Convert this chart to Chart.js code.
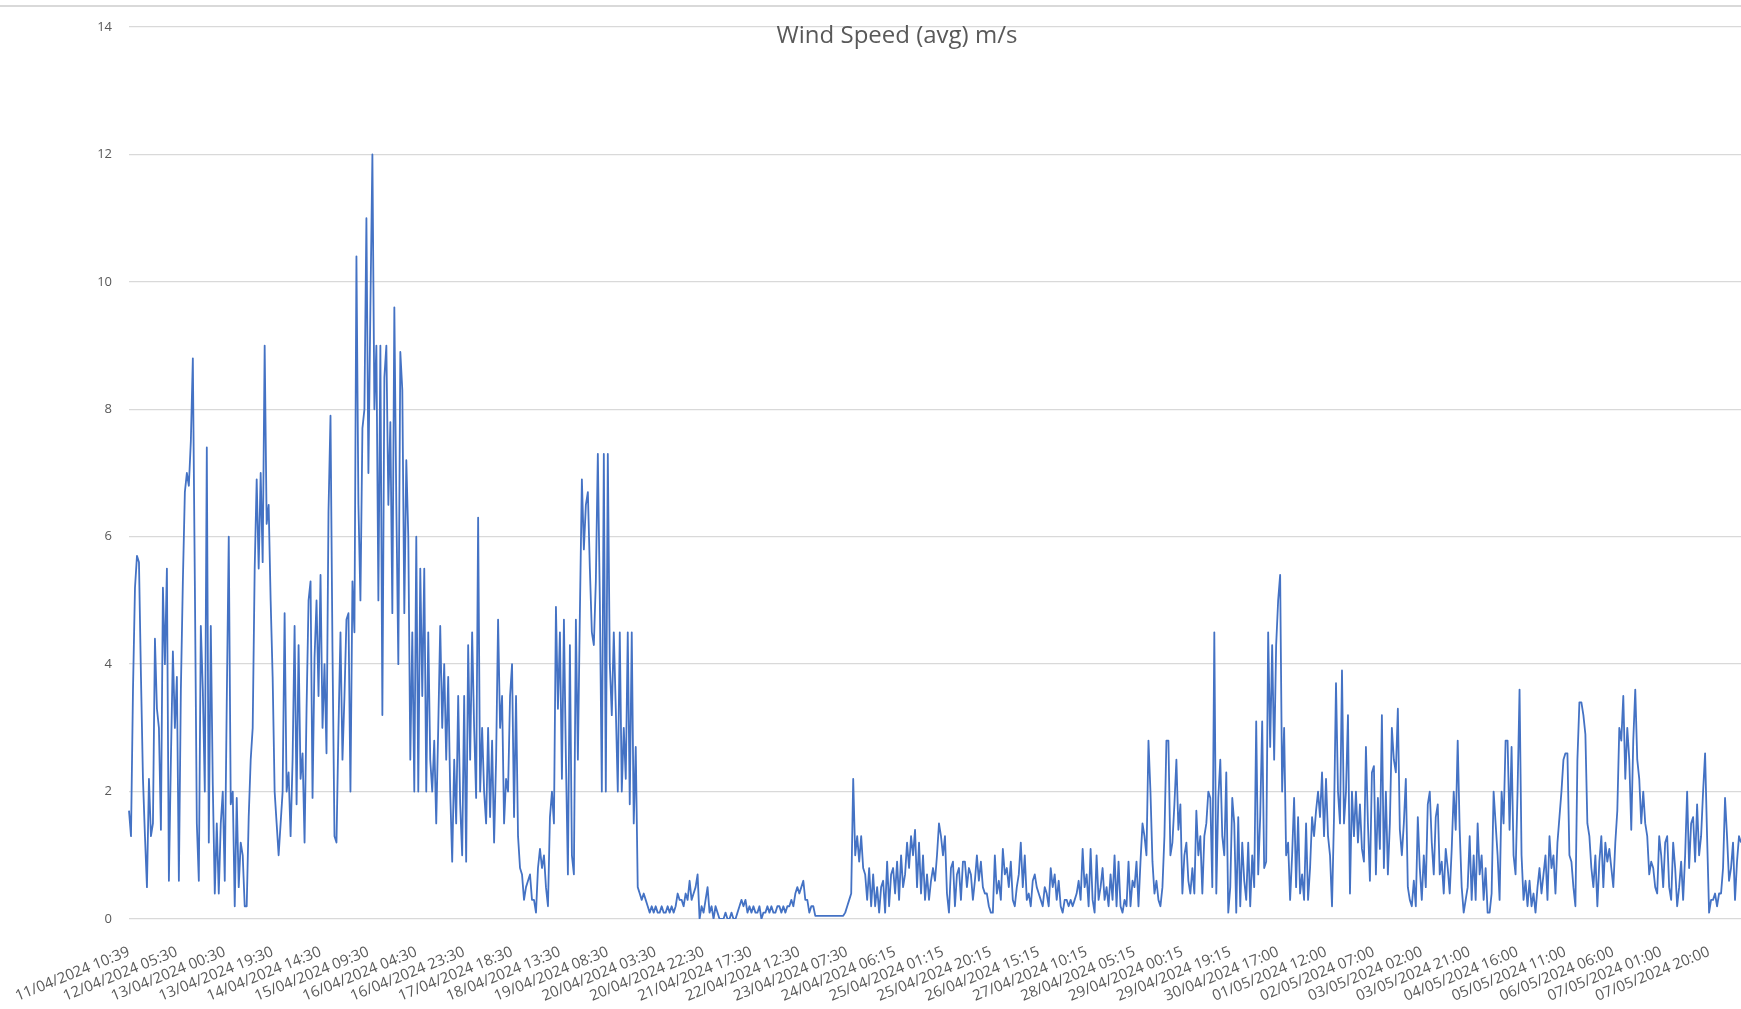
<!DOCTYPE html>
<html>
<head>
<meta charset="utf-8">
<script src="https://cdn.jsdelivr.net/npm/chart.js@4.4.1/dist/chart.umd.min.js"></script>
<style>
  html, body { margin: 0; padding: 0; background: #fff; overflow: hidden; }
  #wrap { width: 1741px; height: 1009px; }
</style>
</head>
<body>
<div id="wrap"><canvas id="windChart" width="1741" height="1009"></canvas></div>
<script>
const chartTitle = 'Wind Speed (avg) m/s';

// x axis labels, one every 24 readings
const labelEvery = 24;
const tickLabels = [
  '11/04/2024 10:39', '12/04/2024 05:30', '13/04/2024 00:30', '13/04/2024 19:30',
  '14/04/2024 14:30', '15/04/2024 09:30', '16/04/2024 04:30', '16/04/2024 23:30',
  '17/04/2024 18:30', '18/04/2024 13:30', '19/04/2024 08:30', '20/04/2024 03:30',
  '20/04/2024 22:30', '21/04/2024 17:30', '22/04/2024 12:30', '23/04/2024 07:30',
  '24/04/2024 06:15', '25/04/2024 01:15', '25/04/2024 20:15', '26/04/2024 15:15',
  '27/04/2024 10:15', '28/04/2024 05:15', '29/04/2024 00:15', '29/04/2024 19:15',
  '30/04/2024 17:00', '01/05/2024 12:00', '02/05/2024 07:00', '03/05/2024 02:00',
  '03/05/2024 21:00', '04/05/2024 16:00', '05/05/2024 11:00', '06/05/2024 06:00',
  '07/05/2024 01:00', '07/05/2024 20:00'
];

const yTicks = [0, 2, 4, 6, 8, 10, 12, 14];

// wind speed readings (m/s)
const windApr11to15 = [
  1.7, 1.3, 3.6, 5.2, 5.7, 5.6, 3.8, 2.2, 1.3, 0.5, 2.2, 1.3,
  1.5, 4.4, 3.3, 3.0, 1.4, 5.2, 4.0, 5.5, 0.6, 2.5, 4.2, 3.0,
  3.8, 0.6, 3.6, 5.3, 6.7, 7.0, 6.8, 7.5, 8.8, 5.3, 1.5, 0.6,
  4.6, 3.6, 2.0, 7.4, 1.2, 4.6, 2.1, 0.4, 1.5, 0.4, 1.5, 2.0,
  0.6, 3.4, 6.0, 1.8, 2.0, 0.2, 1.9, 0.5, 1.2, 1.0, 0.2, 0.2,
  1.6, 2.5, 3.0, 5.5, 6.9, 5.5, 7.0, 5.6, 9.0, 6.2, 6.5, 5.0,
  3.8, 2.0, 1.5, 1.0, 1.5, 2.0, 4.8, 2.0, 2.3, 1.3, 2.5, 4.6,
  1.8, 4.3, 2.2, 2.6, 1.2, 3.3, 5.0, 5.3, 1.9, 4.1, 5.0, 3.5,
  5.4, 3.0, 4.0, 2.6, 6.4, 7.9, 4.2, 1.3, 1.2, 3.0, 4.5, 2.5,
  3.5, 4.7, 4.8, 2.0, 5.3, 4.5, 10.4, 6.5, 5.0, 7.7, 8.0, 11.0
];
const windApr15to20 = [
  7.0, 9.6, 12.0, 8.0, 9.0, 5.0, 9.0, 3.2, 8.5, 9.0, 6.5, 7.8,
  4.8, 9.6, 6.5, 4.0, 8.9, 8.3, 4.8, 7.2, 6.0, 2.5, 4.5, 2.0,
  6.0, 2.0, 5.5, 3.5, 5.5, 2.0, 4.5, 2.5, 2.0, 2.8, 1.5, 3.0,
  4.6, 3.0, 4.0, 2.5, 3.8, 2.0, 0.9, 2.5, 1.5, 3.5, 1.8, 1.0,
  3.5, 0.9, 4.3, 2.5, 4.5, 3.0, 1.9, 6.3, 2.0, 3.0, 2.0, 1.5,
  3.0, 1.6, 2.8, 1.2, 2.5, 4.7, 3.0, 3.5, 1.5, 2.2, 2.0, 3.5,
  4.0, 1.6, 3.5, 1.3, 0.8, 0.7, 0.3, 0.5, 0.6, 0.7, 0.3, 0.3,
  0.1, 0.8, 1.1, 0.8, 1.0, 0.5, 0.2, 1.6, 2.0, 1.5, 4.9, 3.3,
  4.5, 2.2, 4.7, 2.5, 0.7, 4.3, 1.0, 0.7, 4.7, 2.5, 4.8, 6.9,
  5.8, 6.5, 6.7, 5.5, 4.5, 4.3, 5.3, 7.3, 5.0, 2.0, 7.3, 2.0,
  7.3, 4.0, 3.2, 4.5, 3.3, 2.0, 4.5, 2.0, 3.0, 2.2, 4.5, 1.8,
  4.5, 1.5, 2.7, 0.5, 0.4, 0.3, 0.4, 0.3, 0.2, 0.1, 0.2, 0.1,
  0.2, 0.1
];
const windApr20to24 = [
  0.1, 0.2, 0.1, 0.1, 0.2, 0.1, 0.2, 0.1, 0.2, 0.4, 0.3, 0.3,
  0.2, 0.4, 0.3, 0.6, 0.3, 0.4, 0.5, 0.7, 0.0, 0.2, 0.1, 0.3,
  0.5, 0.1, 0.2, 0.0, 0.2, 0.1, 0.0, 0.0, 0.0, 0.1, 0.0, 0.0,
  0.1, 0.0, 0.0, 0.1, 0.2, 0.3, 0.2, 0.3, 0.1, 0.2, 0.1, 0.2,
  0.1, 0.1, 0.2, 0.0, 0.1, 0.1, 0.2, 0.1, 0.2, 0.1, 0.1, 0.2,
  0.2, 0.1, 0.2, 0.1, 0.2, 0.2, 0.3, 0.2, 0.4, 0.5, 0.4, 0.5,
  0.6, 0.3, 0.3, 0.1, 0.2, 0.2, 0.05, 0.05, 0.05, 0.05, 0.05, 0.05,
  0.05, 0.05, 0.05, 0.05, 0.05, 0.05, 0.05, 0.05, 0.05, 0.1, 0.2, 0.3,
  0.4, 2.2, 1.0, 1.3, 0.9, 1.3, 0.8, 0.7, 0.3, 0.8, 0.2, 0.7,
  0.2, 0.5, 0.1, 0.5, 0.6, 0.1, 0.9, 0.2, 0.7, 0.8, 0.4, 0.9,
  0.3, 1.0, 0.5, 0.7, 1.2, 0.8, 1.3, 1.0, 1.4, 0.5, 1.2, 0.4,
  1.0, 0.3, 0.7, 0.3
];
const windApr24to29 = [
  0.6, 0.8, 0.6, 1.0, 1.5, 1.3, 1.0, 1.3, 0.4, 0.1, 0.8, 0.9,
  0.2, 0.7, 0.8, 0.3, 0.9, 0.9, 0.5, 0.8, 0.7, 0.3, 0.6, 1.0,
  0.6, 0.9, 0.5, 0.4, 0.4, 0.2, 0.1, 0.1, 1.0, 0.4, 0.6, 0.3,
  1.1, 0.7, 0.8, 0.5, 0.9, 0.3, 0.2, 0.5, 0.7, 1.2, 0.5, 1.0,
  0.3, 0.4, 0.2, 0.6, 0.7, 0.5, 0.4, 0.3, 0.2, 0.5, 0.4, 0.2,
  0.8, 0.5, 0.7, 0.3, 0.6, 0.2, 0.1, 0.3, 0.3, 0.2, 0.3, 0.2,
  0.3, 0.4, 0.6, 0.3, 1.1, 0.5, 0.7, 0.2, 1.1, 0.3, 0.1, 1.0,
  0.3, 0.5, 0.8, 0.3, 0.5, 0.2, 0.7, 0.3, 1.0, 0.2, 0.9, 0.2,
  0.1, 0.3, 0.2, 0.9, 0.2, 0.6, 0.5, 0.9, 0.2, 0.9, 1.5, 1.3,
  1.0, 2.8, 2.0, 0.9, 0.4, 0.6, 0.3, 0.2, 0.5, 1.3, 2.8, 2.8,
  1.0, 1.2, 1.8, 2.5, 1.4, 1.8, 0.4, 1.0, 1.2, 0.6, 0.4, 0.8,
  0.4, 1.7, 1.0
];
const windApr29toMay03 = [
  1.3, 0.4, 1.3, 1.5, 2.0, 1.9, 0.5, 4.5, 0.4, 1.9, 2.5, 1.3,
  1.0, 2.3, 0.1, 0.5, 1.9, 1.5, 0.1, 1.6, 0.2, 1.2, 0.6, 0.3,
  1.2, 0.2, 1.0, 0.5, 3.1, 0.7, 1.6, 3.1, 0.8, 0.9, 4.5, 2.7,
  4.3, 2.5, 4.3, 5.0, 5.4, 2.0, 3.0, 1.0, 1.2, 0.3, 1.0, 1.9,
  0.5, 1.6, 0.4, 0.7, 0.3, 1.5, 0.3, 0.8, 1.6, 1.3, 1.7, 2.0,
  1.6, 2.3, 1.3, 2.2, 1.3, 1.0, 0.2, 1.6, 3.7, 2.0, 1.5, 3.9,
  1.5, 2.0, 3.2, 0.4, 2.0, 1.3, 2.0, 1.2, 1.8, 1.1, 0.9, 2.7,
  1.5, 0.6, 2.3, 2.4, 0.7, 1.9, 1.1, 3.2, 0.8, 2.0, 0.7, 1.5,
  3.0, 2.5, 2.3, 3.3, 1.4, 1.0, 1.5, 2.2, 0.5, 0.3, 0.2, 0.6,
  0.2, 1.6, 0.8, 0.3, 1.0, 0.5, 1.8, 2.0, 1.2, 0.7, 1.6, 1.8,
  0.7, 0.9, 0.4, 1.1, 0.8, 0.4, 1.1, 2.0, 1.4, 2.8, 1.4, 0.5,
  0.1, 0.3, 0.5
];
const windMay03to07 = [
  1.3, 0.3, 1.0, 0.3, 1.5, 0.7, 1.0, 0.3, 0.8, 0.1, 0.1, 0.4,
  2.0, 1.5, 1.0, 0.3, 2.0, 1.5, 2.8, 2.8, 1.4, 2.7, 1.0, 0.7,
  2.0, 3.6, 1.0, 0.3, 0.6, 0.2, 0.6, 0.2, 0.4, 0.1, 0.5, 0.8,
  0.4, 0.7, 1.0, 0.3, 1.3, 0.8, 1.0, 0.4, 1.2, 1.6, 2.0, 2.5,
  2.6, 2.6, 1.0, 0.9, 0.5, 0.2, 2.5, 3.4, 3.4, 3.2, 2.9, 1.5,
  1.3, 0.8, 0.5, 1.0, 0.2, 0.9, 1.3, 0.5, 1.2, 0.9, 1.1, 0.8,
  0.5, 1.2, 1.7, 3.0, 2.8, 3.5, 2.2, 3.0, 2.5, 1.4, 2.8, 3.6,
  2.5, 2.2, 1.5, 2.0, 1.5, 1.3, 0.7, 0.9, 0.8, 0.5, 0.4, 1.3,
  1.0, 0.5, 1.2, 1.3, 0.5, 0.3, 1.2, 0.8, 0.2, 0.5, 0.9, 0.3,
  1.0, 2.0, 0.8, 1.5, 1.6, 0.9, 1.8, 1.0, 1.3, 2.0, 2.6, 1.3,
  0.1, 0.3, 0.3, 0.4, 0.2, 0.4, 0.4, 0.8, 1.9, 1.3, 0.6, 0.8,
  1.2, 0.3, 0.9, 1.3, 1.2
];

const windSpeed = [].concat(windApr11to15, windApr15to20, windApr20to24,
  windApr24to29, windApr29toMay03, windMay03to07);

const labels = windSpeed.map((v, i) =>
  i % labelEvery === 0 ? (tickLabels[i / labelEvery] || '') : '');

const textGrey = '#595959';
const gridGrey = '#d9d9d9';

// title sits inside the plot, like the spreadsheet one, plus the thin frame line on top
const titlePlugin = {
  id: 'innerTitle',
  afterDraw(chart) {
    const c = chart.ctx;
    c.save();
    c.strokeStyle = gridGrey;
    c.lineWidth = 2;
    c.beginPath();
    c.moveTo(0, 6);
    c.lineTo(chart.width, 6);
    c.stroke();
    c.fillStyle = textGrey;
    c.font = '24px "Open Sans"';
    c.textAlign = 'center';
    c.textBaseline = 'middle';
    c.fillText(chartTitle, 897, 36);
    c.restore();
  }
};

const ctx = document.getElementById('windChart').getContext('2d');
new Chart(ctx, {
  type: 'line',
  data: {
    labels,
    datasets: [{
      label: chartTitle,
      data: windSpeed,
      borderColor: '#4472C4',
      borderWidth: 1.8,
      borderJoinStyle: 'round',
      pointRadius: 0,
      tension: 0,
      fill: false
    }]
  },
  options: {
    responsive: false,
    animation: false,
    layout: { padding: { top: 27, right: 0, bottom: 0, left: 0 } },
    plugins: { legend: { display: false }, tooltip: { enabled: false }, title: { display: false } },
    scales: {
      x: {
        grid: { display: false },
        border: { display: false },
        ticks: {
          autoSkip: false,
          maxRotation: 22,
          minRotation: 22,
          padding: 16,
          color: textGrey,
          font: { family: 'Open Sans', size: 15 }
        },
        // plot runs right up to the edge, as in the cropped original
        afterFit: s => { s.height = 90; s.paddingRight = 0; }
      },
      y: {
        min: 0,
        max: 14,
        afterBuildTicks: s => { s.ticks = yTicks.map(v => ({ value: v })); },
        grid: { color: gridGrey, lineWidth: 1.3, drawTicks: false },
        border: { display: false },
        ticks: {
          padding: 17,
          color: textGrey,
          font: { family: 'Open Sans', size: 13 }
        },
        afterFit: s => { s.width = 129; }
      }
    }
  },
  plugins: [titlePlugin]
});
</script>
</body>
</html>
